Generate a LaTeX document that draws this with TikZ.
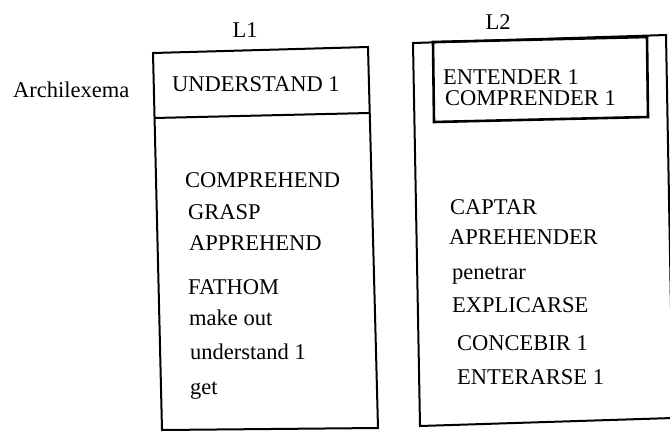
\documentclass[tikz,border=0pt]{standalone}
\usepackage{fontspec}
\setmainfont{Liberation Serif}
\begin{document}
\begin{tikzpicture}[x=1pt,y=-1pt,
  txt/.style={inner sep=0pt, font=\fontsize{22.5}{27}\selectfont},
  item/.style={txt, anchor=base west},
  head/.style={txt, anchor=base},
  frame/.style={line width=2pt, line join=miter},
  innerframe/.style={line width=2.6pt, line join=miter}]
\useasboundingbox (0,0) rectangle (670,432);

% ---- L1 column ----
\coordinate (p1) at (153,53);
\coordinate (p2) at (368,47);
\coordinate (p3) at (378,428);
\coordinate (p4) at (162,430);
\coordinate (d1) at (154,118);
\coordinate (d2) at (369,113);
\draw[frame] (p1) -- (p2) -- (p3) -- (p4) -- cycle;
\draw[frame] (d1) -- (d2);

\node[head] (l1) at (245,37) {L1};
\node[item] (arch) at (13,97) {Archilexema};
\node[item] (und) at (172,91) {UNDERSTAND 1};

\node[item] (e1) at (185,187) {COMPREHEND};
\node[item] (e2) at (188,219) {GRASP};
\node[item] (e3) at (189,250) {APPREHEND};
\node[item] (e4) at (188,294) {FATHOM};
\node[item] (e5) at (189,325) {make out};
\node[item] (e6) at (190,359) {understand 1};
\node[item] (e7) at (190,394) {get};

% ---- L2 column ----
\coordinate (q1) at (413,43);
\coordinate (q2) at (666,35);
\coordinate (q3) at (673,418);
\coordinate (q4) at (420,426);
\draw[frame] (q1) -- (q2) -- (q3) -- (q4) -- cycle;

\coordinate (r1) at (433,42);
\coordinate (r2) at (647,37);
\coordinate (r3) at (648,117);
\coordinate (r4) at (434,122);
\draw[innerframe] (r1) -- (r2) -- (r3) -- (r4) -- cycle;

\node[head] (l2) at (498,29) {L2};
\node[item] (s1) at (443,84) {ENTENDER 1};
\node[item] (s2) at (445,105) {COMPRENDER 1};

\node[item] (t1) at (450,214) {CAPTAR};
\node[item] (t2) at (449,244) {APREHENDER};
\node[item] (t3) at (452,279) {penetrar};
\node[item] (t4) at (452,312) {EXPLICARSE};
\node[item] (t5) at (457,350) {CONCEBIR 1};
\node[item] (t6) at (457,384) {ENTERARSE 1};
\end{tikzpicture}
\end{document}
